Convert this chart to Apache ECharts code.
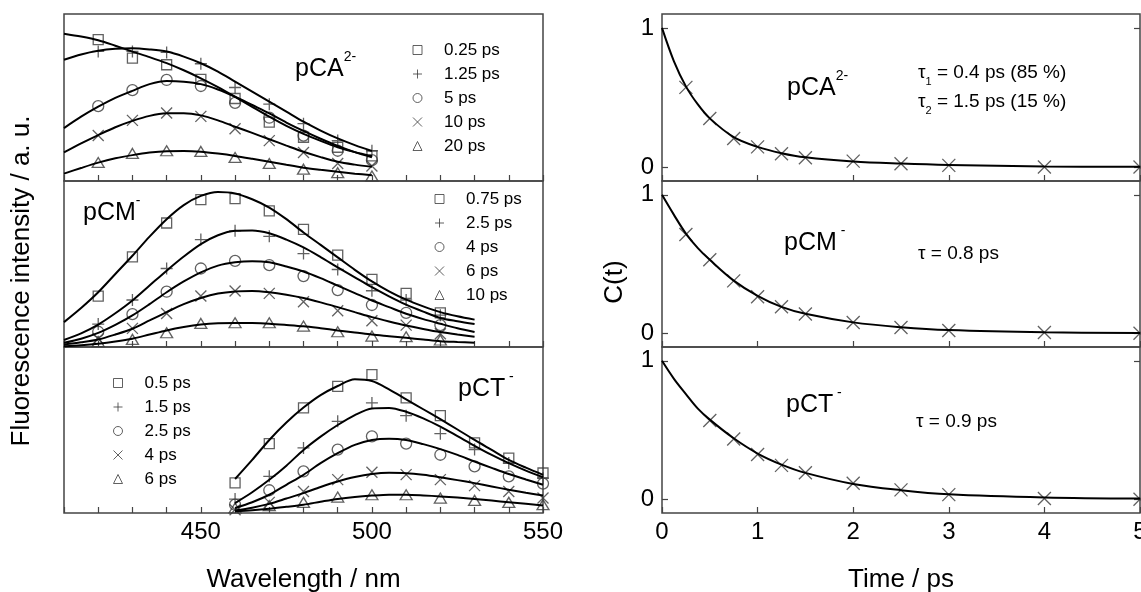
<!DOCTYPE html>
<html><head><meta charset="utf-8">
<script src="https://cdn.jsdelivr.net/npm/echarts@6/dist/echarts.min.js"></script>
<style>html,body{margin:0;padding:0;background:#fff}#c{width:1141px;height:592px}</style>
</head><body><div id="c"></div>
<script>
// ---------- Left: fluorescence spectra (arbitrary units, 0-100 per panel) ----------
const wlA = [420,430,440,450,460,470,480,490,500];
const fitWlA = [410,415,420,425,430,435,440,445,450,455,460,465,470,475,480,485,490,495,500];
const labelsA = ['0.25 ps','1.25 ps','5 ps','10 ps','20 ps'];
const pCA_0_25 = [84.7,73.6,69.6,60.9,49.4,35.3,26.2,20.2,15.1];
const pCA_1_25 = [77.6,77.6,77.0,70.2,56.0,46.0,34.3,24.2,18.1];
const pCA_5    = [44.8,54.4,60.5,56.9,46.8,37.9,27.2,18.1,12.5];
const pCA_10   = [27.2,36.3,40.7,38.7,31.3,24.2,17.1,10.5,9.0];
const pCA_20   = [11.1,16.5,18.1,17.7,14.1,10.5,7.1,5.0,3.0];
const fitA_0_25 = [88.2,86.5,84.3,81.0,77.5,74.2,70.6,66.3,61.5,56.2,50.4,44.4,38.5,33.0,28.2,24.0,20.2,17.3,15.0];
const fitA_1_25 = [72.6,75.8,78.0,79.2,79.5,78.8,77.5,74.5,70.5,65.5,59.5,53.5,47.5,41.5,35.5,30.2,25.5,21.5,18.0];
const fitA_5    = [31.7,38.5,44.5,49.8,54.0,58.0,59.9,59.5,58.0,54.8,50.5,45.5,40.5,35.0,30.0,25.3,21.0,17.3,14.2];
const fitA_10   = [17.1,22.5,27.5,32.2,36.0,39.0,40.5,40.6,39.3,36.3,32.5,28.8,25.0,21.2,17.5,14.3,11.5,9.8,8.5];
const fitA_20   = [4.4,7.8,11.0,13.6,15.5,17.0,17.8,17.9,17.5,16.4,15.0,13.3,11.5,9.7,8.0,6.7,5.5,4.4,3.5];

const wlB = [420,430,440,450,460,470,480,490,500,510,520];
const fitWlB = [410,415,420,425,430,435,440,445,450,455,460,465,470,475,480,485,490,495,500,505,510,515,520,525,530];
const labelsB = ['0.75 ps','2.5 ps','4 ps','6 ps','10 ps'];
const pCM_0_75 = [30.7,54.3,74.7,88.8,89.4,82.0,70.9,55.3,40.7,32.3,20.6];
const pCM_2_5  = [13.8,28.3,47.3,64.7,70.0,66.7,56.3,46.7,33.9,28.3,19.2];
const pCM_4    = [9.2,19.8,33.3,47.3,51.9,49.3,42.7,34.3,25.3,20.6,13.2];
const pCM_6    = [5.0,11.2,20.2,30.7,33.7,32.3,27.3,21.8,15.8,13.2,8.0];
const pCM_10   = [3.2,4.6,8.6,14.2,14.6,14.6,12.6,9.2,6.6,6.2,4.2];
const fitB_0_75 = [15.0,23.5,33.0,44.0,55.0,66.5,77.0,85.5,91.0,93.4,92.5,89.0,84.0,77.0,69.0,61.5,54.0,46.5,39.5,33.5,28.5,24.5,21.0,18.5,16.5];
const fitB_2_5  = [4.2,8.2,13.5,20.3,28.0,37.0,46.0,54.5,62.0,67.3,70.0,70.2,68.5,64.7,60.0,54.2,48.0,42.0,36.0,30.5,25.5,21.3,17.5,15.5,13.8];
const fitB_4    = [2.5,5.0,8.5,13.3,19.0,25.8,33.0,39.5,45.0,49.0,51.0,51.7,51.0,48.5,45.5,41.5,37.0,32.5,28.0,24.0,20.0,16.8,14.0,11.3,9.0];
const fitB_6    = [1.5,2.8,4.5,7.5,11.0,16.0,21.0,25.8,29.5,32.2,33.5,33.8,33.0,31.5,29.5,26.9,24.0,21.0,18.0,15.4,13.0,10.9,9.0,7.5,6.2];
const fitB_10   = [0.5,1.1,2.0,3.3,5.0,7.5,10.0,12.0,13.5,14.3,14.5,14.4,14.0,13.3,12.5,11.3,10.0,8.8,7.5,6.5,5.5,4.5,3.5,3.0,2.6];

const wlC = [460,470,480,490,500,510,520,530,540,550];
const fitWlC = [460,465,470,475,480,485,490,495,500,505,510,515,520,525,530,535,540,545,550];
const labelsC = ['0.5 ps','1.5 ps','2.5 ps','4 ps','6 ps'];
const pCT_0_5 = [18.1,41.8,63.3,76.3,83.3,69.3,58.6,42.2,33.1,24.1];
const pCT_1_5 = [8.4,22.1,39.2,55.2,66.3,58.6,47.8,38.2,30.1,21.0];
const pCT_2_5 = [5.0,13.7,25.1,38.2,46.2,41.8,35.1,28.1,22.1,17.7];
const pCT_4   = [2.0,6.4,13.0,20.1,24.5,23.1,20.1,16.5,13.0,9.0];
const pCT_6   = [3.0,4.4,6.4,9.6,11.0,11.0,9.0,7.6,6.4,5.0];
const fitC_0_5 = [20.5,32.0,44.0,54.5,63.5,71.0,76.5,80.5,79.5,74.5,68.5,62.5,56.5,50.3,44.0,38.0,32.0,27.3,23.0];
const fitC_1_5 = [6.0,12.5,20.0,28.5,38.0,46.0,53.0,59.0,63.0,63.3,61.0,57.0,52.0,46.3,40.5,35.0,30.0,25.5,21.5];
const fitC_2_5 = [3.0,6.5,11.0,17.0,23.0,30.0,36.0,41.0,44.0,44.8,44.0,41.5,38.5,35.0,31.0,27.2,23.5,20.2,17.0];
const fitC_4   = [1.5,3.2,5.5,8.7,12.0,15.7,19.0,21.7,23.5,24.2,24.0,23.0,21.5,19.8,18.0,16.0,14.0,12.2,10.5];
const fitC_6   = [1.0,1.6,2.5,3.7,5.0,6.8,8.5,9.7,10.5,11.0,11.0,10.6,10.0,9.3,8.5,7.5,6.5,5.5,4.5];

const wlTicks = [450,500,550];

// ---------- Right: correlation functions C(t) ----------
const tA = [0.25,0.5,0.75,1,1.25,1.5,2,2.5,3,4,5];
const cA = [0.573,0.349,0.205,0.145,0.096,0.067,0.043,0.024,0.012,0.0,0.0];
const tB = [0.25,0.5,0.75,1,1.25,1.5,2,2.5,3,4,5];
const cB = [0.713,0.531,0.378,0.263,0.191,0.139,0.077,0.041,0.019,0.005,0.0];
const tC = [0.5,0.75,1,1.25,1.5,2,2.5,3,4,5];
const cC = [0.569,0.435,0.323,0.244,0.191,0.115,0.067,0.033,0.005,0.0];
const tFit = [0,0.125,0.25,0.375,0.5,0.75,1,1.25,1.5,2,2.5,3,4,5];
const fitCA = [1,0.76,0.58,0.45,0.35,0.215,0.145,0.10,0.07,0.04,0.025,0.015,0.005,0.002];
const fitCB = [1,0.855,0.72,0.615,0.53,0.38,0.27,0.19,0.14,0.078,0.043,0.022,0.006,0.002];
const fitCC = [1,0.87,0.76,0.655,0.575,0.44,0.33,0.25,0.19,0.11,0.065,0.035,0.012,0.004];
const timeTicks = [0,1,2,3,4,5];
const cTicks = [0,1];

// ---------- build ----------
const FONT = 'Liberation Sans, Arial, Helvetica, sans-serif';
const INK = '#3a3a3a';
const zip = (xs, ys) => xs.map((x, i) => [x, ys[i]]);
const SYMS = [
  {symbol: 'rect', size: 10},
  {symbol: 'path://M0,5L10,5M5,0L5,10', size: 12},
  {symbol: 'circle', size: 11},
  {symbol: 'path://M0,0L10,10M10,0L0,10', size: 11},
  {symbol: 'triangle', size: [12, 10]}
];
const tops = [14, 181, 347], hts = [167, 166, 166];

const grid = [], xAxis = [], yAxis = [], series = [], legend = [];
for (let i = 0; i < 3; i++) {
  grid.push({left: 64, top: tops[i], width: 479, height: hts[i], show: true, borderColor: '#444', borderWidth: 1.5, backgroundColor: 'transparent', containLabel: false, outerBoundsMode: 'none'});
}
for (let i = 0; i < 3; i++) {
  grid.push({left: 662, top: tops[i], width: 478, height: hts[i], show: true, borderColor: '#444', borderWidth: 1.5, backgroundColor: 'transparent', containLabel: false, outerBoundsMode: 'none'});
}
const tickStyle = {show: true, inside: true, length: 6, lineStyle: {color: '#444', width: 1.2}};
for (let i = 0; i < 3; i++) {
  xAxis.push({gridIndex: i, type: 'value', min: 410, max: 550, interval: 10,
    axisLine: {show: false, onZero: false}, splitLine: {show: false},
    axisTick: tickStyle,
    axisLabel: {show: i === 2, customValues: wlTicks, fontSize: 24, color: '#000', margin: 7, fontFamily: FONT},
    name: i === 2 ? 'Wavelength / nm' : '', nameLocation: 'middle', nameGap: 54,
    nameTextStyle: {fontSize: 26, color: '#000', fontFamily: FONT}});
  yAxis.push({gridIndex: i, type: 'value', min: 0, max: 100, show: false});
}
for (let i = 0; i < 3; i++) {
  xAxis.push({gridIndex: 3 + i, type: 'value', min: 0, max: 5, interval: 1,
    axisLine: {show: false, onZero: false}, splitLine: {show: false},
    axisTick: tickStyle,
    axisLabel: {show: i === 2, customValues: timeTicks, fontSize: 24, color: '#000', margin: 7, fontFamily: FONT},
    name: i === 2 ? 'Time / ps' : '', nameLocation: 'middle', nameGap: 54,
    nameTextStyle: {fontSize: 26, color: '#000', fontFamily: FONT}});
}
for (let i = 0; i < 3; i++) {
  yAxis.push({gridIndex: 3 + i, type: 'value', min: -0.1, max: 1.1,
    axisLine: {show: false, onZero: false}, splitLine: {show: false},
    axisTick: Object.assign({customValues: cTicks}, tickStyle),
    axisLabel: {show: true, customValues: cTicks, fontSize: 24, color: '#000', margin: 8, fontFamily: FONT}});
}
for (let i = 0; i < 3; i++) {
  yAxis.push({gridIndex: 3 + i, type: 'value', position: 'right', min: -0.1, max: 1.1,
    axisLine: {show: false, onZero: false}, splitLine: {show: false},
    axisTick: Object.assign({customValues: cTicks}, tickStyle),
    axisLabel: {show: false}});
}

function addSpectra(panel, key, xs, sets, fitXs, fits, labels, legendPos) {
  const names = [];
  sets.forEach((ys, k) => {
    const nm = key + '|' + labels[k];
    names.push(nm);
    series.push({type: 'scatter', name: nm, xAxisIndex: panel, yAxisIndex: panel, data: zip(xs, ys),
      symbol: SYMS[k].symbol, symbolSize: SYMS[k].size, silent: true, z: 2,
      itemStyle: {color: 'transparent', borderColor: INK, borderWidth: 1.3}});
  });
  fits.forEach(ys => {
    series.push({type: 'line', xAxisIndex: panel, yAxisIndex: panel, data: zip(fitXs, ys),
      smooth: 0.3, showSymbol: false, symbol: 'none', silent: true, z: 3,
      lineStyle: {color: '#000', width: 2}});
  });
  legend.push({data: names, orient: 'vertical', left: legendPos[0], top: legendPos[1],
    itemWidth: 9, itemHeight: 9, itemGap: 7, padding: 0, selectedMode: false,
    itemStyle: {borderWidth: 1},
    formatter: n => '{g|}' + n.split('|')[1],
    textStyle: {fontSize: 17, color: '#000', fontFamily: FONT, rich: {g: {width: 17}}}});
}
addSpectra(0, 'A', wlA, [pCA_0_25, pCA_1_25, pCA_5, pCA_10, pCA_20], fitWlA, [fitA_0_25, fitA_1_25, fitA_5, fitA_10, fitA_20], labelsA, [412.5, 41.5]);
addSpectra(1, 'B', wlB, [pCM_0_75, pCM_2_5, pCM_4, pCM_6, pCM_10], fitWlB, [fitB_0_75, fitB_2_5, fitB_4, fitB_6, fitB_10], labelsB, [434.5, 190.5]);
addSpectra(2, 'C', wlC, [pCT_0_5, pCT_1_5, pCT_2_5, pCT_4, pCT_6], fitWlC, [fitC_0_5, fitC_1_5, fitC_2_5, fitC_4, fitC_6], labelsC, [113, 374.5]);

[[tA, cA, fitCA], [tB, cB, fitCB], [tC, cC, fitCC]].forEach((d, i) => {
  series.push({type: 'scatter', xAxisIndex: 3 + i, yAxisIndex: 3 + i, data: zip(d[0], d[1]),
    symbol: 'path://M0,0L10,10M10,0L0,10', symbolSize: 13, silent: true, z: 2,
    itemStyle: {color: 'transparent', borderColor: INK, borderWidth: 1.3}});
  series.push({type: 'line', xAxisIndex: 3 + i, yAxisIndex: 3 + i, data: zip(tFit, d[2]),
    smooth: 0.35, showSymbol: false, symbol: 'none', silent: true, z: 3,
    lineStyle: {color: '#000', width: 2}});
});

const supRich = {
  m: {fontSize: 25, lineHeight: 38, fontFamily: FONT, fill: '#000'},
  s: {fontSize: 14, lineHeight: 14, verticalAlign: 'top', fontFamily: FONT, fill: '#000'}
};
const subRich = {
  t: {fontSize: 19, lineHeight: 28, fontFamily: FONT, fill: '#000'},
  b: {fontSize: 11, lineHeight: 11, verticalAlign: 'bottom', fontFamily: FONT, fill: '#000'}
};
const label = (x, y, text, rich) => ({type: 'text', x: x, y: y, silent: true,
  style: {text: text, rich: rich, align: 'left', verticalAlign: 'middle', fill: '#000', fontFamily: FONT}});
const graphic = [
  label(295, 69, '{m|pCA}{s|2-}', supRich),
  label(83, 213, '{m|pCM}{s|-}', supRich),
  label(458, 389, '{m|pCT}{s| -}', supRich),
  label(787, 88, '{m|pCA}{s|2-}', supRich),
  label(784, 243, '{m|pCM}{s| -}', supRich),
  label(786, 405, '{m|pCT}{s| -}', supRich),
  label(918, 73, '{t|τ}{b|1}{t| = 0.4 ps (85 %)}', subRich),
  label(918, 102, '{t|τ}{b|2}{t| = 1.5 ps (15 %)}', subRich),
  label(918, 254, '{t|τ = 0.8 ps}', subRich),
  label(916, 422, '{t|τ = 0.9 ps}', subRich),
  {type: 'text', x: 22, y: 281, rotation: Math.PI / 2, silent: true,
    style: {text: 'Fluorescence intensity / a. u.', fontSize: 26, fontFamily: FONT, fill: '#000', align: 'center', verticalAlign: 'middle'}},
  {type: 'text', x: 615, y: 282, rotation: Math.PI / 2, silent: true,
    style: {text: 'C(t)', fontSize: 26, fontFamily: FONT, fill: '#000', align: 'center', verticalAlign: 'middle'}}
];

const chart = echarts.init(document.getElementById('c'), null, {renderer: 'canvas'});
chart.setOption({
  animation: false,
  backgroundColor: '#fff',
  textStyle: {fontFamily: FONT},
  grid, xAxis, yAxis, series, legend, graphic
});
</script></body></html>
